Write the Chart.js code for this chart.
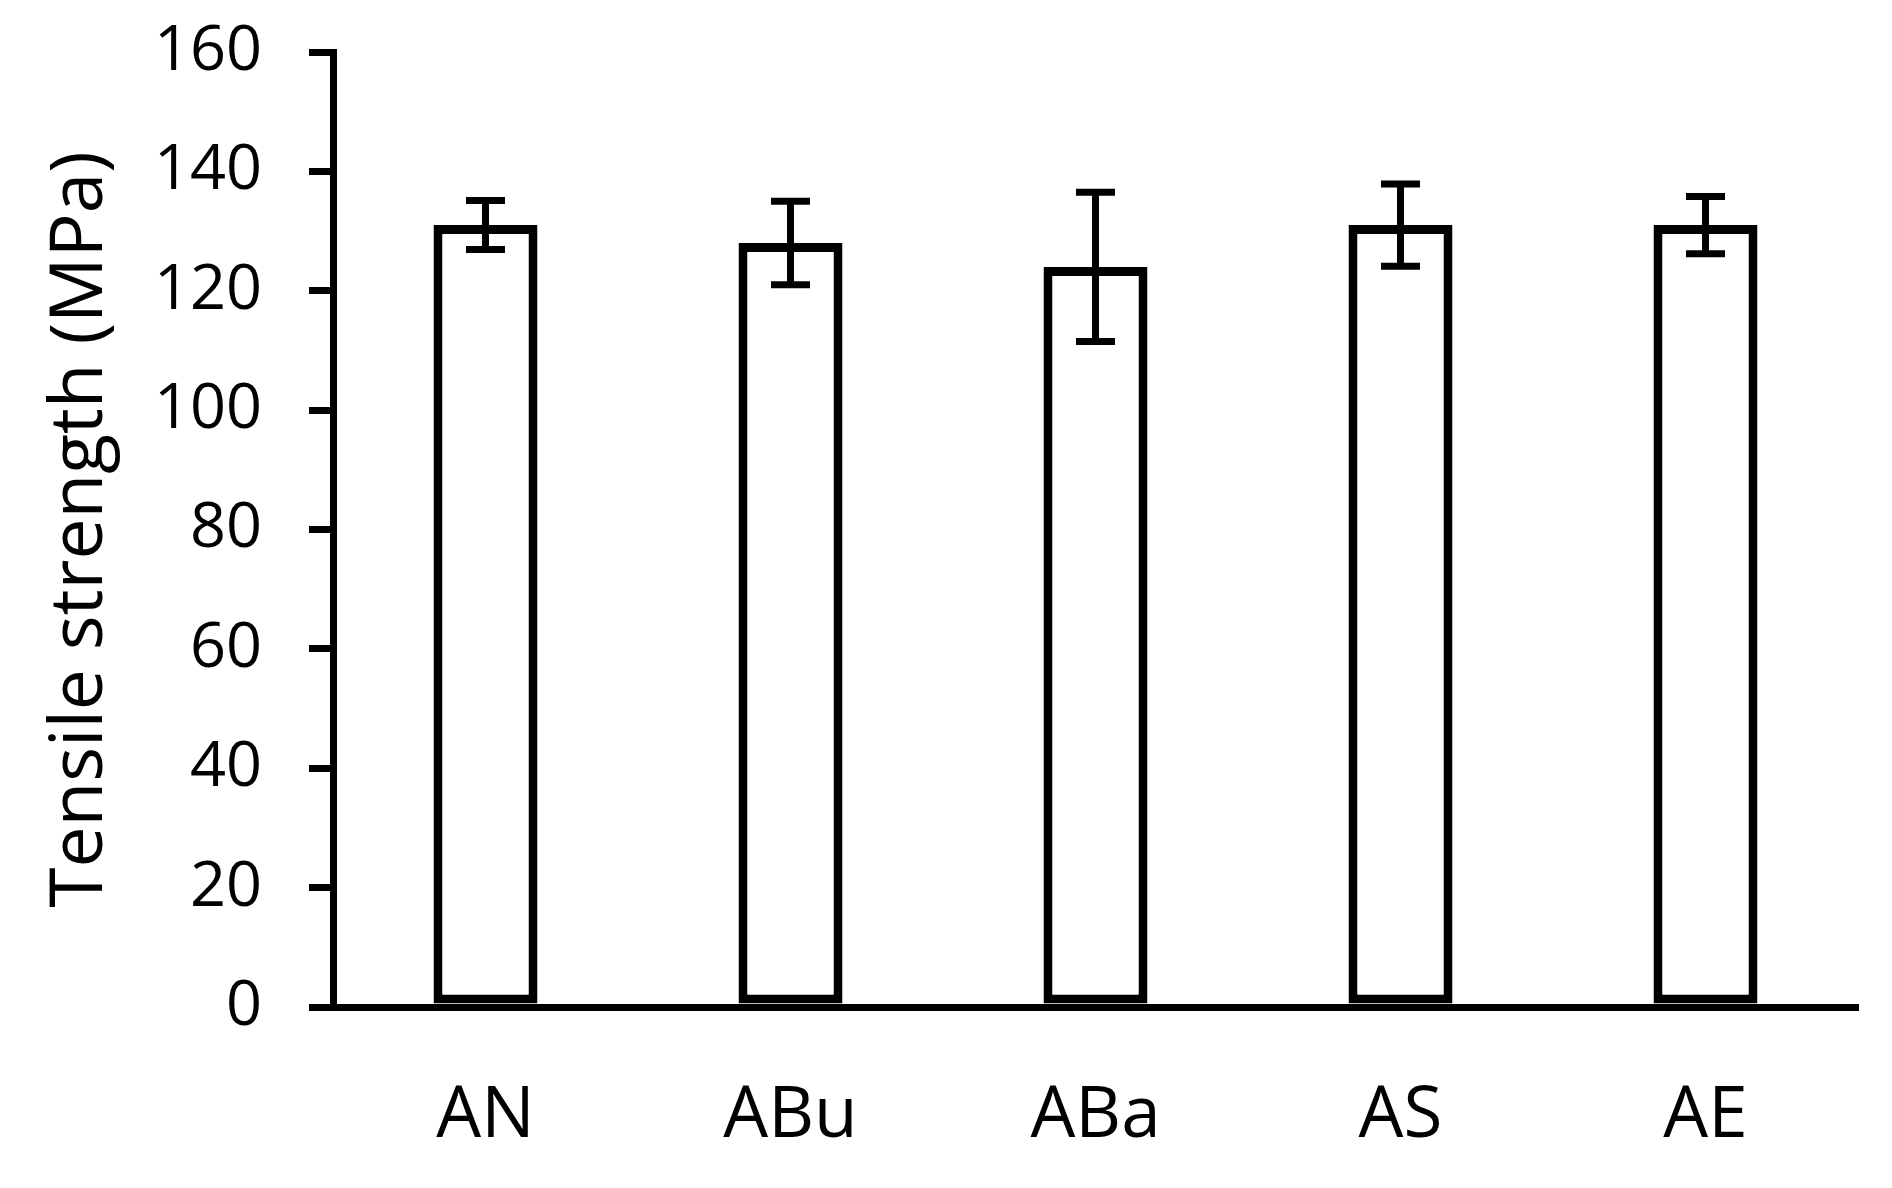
<!DOCTYPE html>
<html>
<head>
<meta charset="utf-8">
<script src="https://cdn.jsdelivr.net/npm/chart.js@4/dist/chart.umd.min.js"></script>
<style>
  html, body { margin: 0; padding: 0; background: #ffffff; }
  #wrap { width: 1892px; height: 1188px; }
</style>
</head>
<body>
<div id="wrap"><canvas id="c" width="1892" height="1188"></canvas></div>
<script>
const categories = ["AN", "ABu", "ABa", "AS", "AE"];
const tensileStrength = [131, 128, 124, 131, 131];
const tensileError = [4.1, 7.0, 12.5, 6.9, 4.8];
const yTicks = [0, 20, 40, 60, 80, 100, 120, 140, 160];
const yTitle = "Tensile strength (MPa)";

const errorBarPlugin = {
  id: 'errorBars',
  afterDatasetsDraw(chart) {
    const ctx = chart.ctx;
    const yScale = chart.scales.y;
    const meta = chart.getDatasetMeta(0);
    const errs = chart.data.datasets[0].errors;
    const vals = chart.data.datasets[0].data;
    ctx.save();
    ctx.strokeStyle = '#000000';
    ctx.lineWidth = 7;
    ctx.lineCap = 'butt';
    const half = 19.5;
    meta.data.forEach((bar, i) => {
      const x = bar.x;
      const yTop = yScale.getPixelForValue(vals[i] + errs[i]);
      const yBot = yScale.getPixelForValue(vals[i] - errs[i]);
      ctx.beginPath();
      ctx.moveTo(x, yTop);
      ctx.lineTo(x, yBot);
      ctx.moveTo(x - half, yTop);
      ctx.lineTo(x + half, yTop);
      ctx.moveTo(x - half, yBot);
      ctx.lineTo(x + half, yBot);
      ctx.stroke();
    });
    ctx.restore();
  }
};

new Chart(document.getElementById('c'), {
  type: 'bar',
  data: {
    labels: categories,
    datasets: [{
      data: tensileStrength,
      errors: tensileError,
      backgroundColor: '#ffffff',
      borderColor: '#000000',
      borderWidth: 9,
      borderSkipped: false,
      barPercentage: 0.341,
      categoryPercentage: 1.0
    }]
  },
  options: {
    responsive: false,
    animation: false,
    devicePixelRatio: 1,
    layout: { padding: { left: 0, top: 52, right: 34, bottom: 0 } },
    plugins: { legend: { display: false }, tooltip: { enabled: false } },
    scales: {
      x: {
        afterFit(scale) {
          scale.height = 181;
          scale.paddingLeft = 0; scale.paddingRight = 0;
          scale.paddingTop = 0; scale.paddingBottom = 0;
        },
        grid: { display: false, drawTicks: false },
        border: { display: true, color: '#000000', width: 7 },
        ticks: {
          padding: 67,
          color: '#000000',
          font: { family: 'Open Sans', size: 71 }
        }
      },
      y: {
        min: 0,
        max: 160,
        afterFit(scale) {
          scale.width = 333;
          scale.paddingTop = 0; scale.paddingBottom = 0;
          scale.paddingLeft = 0; scale.paddingRight = 0;
        },
        afterBuildTicks(scale) { scale.ticks = yTicks.map(v => ({ value: v })); },
        grid: {
          drawOnChartArea: false,
          drawTicks: true,
          tickLength: 24,
          color: '#000000',
          lineWidth: 7
        },
        border: { display: true, color: '#000000', width: 7 },
        ticks: {
          padding: 47,
          color: '#000000',
          font: { family: 'Open Sans', size: 63 }
        },
        title: {
          display: true,
          text: yTitle,
          color: '#000000',
          font: { family: 'Open Sans', size: 73 },
          padding: { top: 37, bottom: 0 }
        }
      }
    }
  },
  plugins: [errorBarPlugin]
});
</script>
</body>
</html>
